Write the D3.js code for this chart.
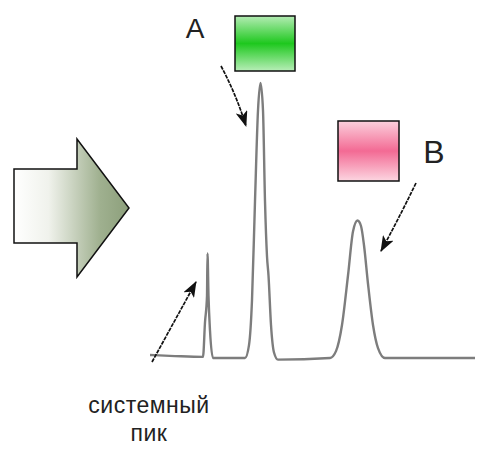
<!DOCTYPE html>
<html lang="ru">
<head>
<meta charset="UTF-8">
<title>Хроматограмма</title>
<script src="https://cdn.jsdelivr.net/npm/d3@7"></script>
<style>
    body { margin: 0; background: #fff; }
    svg { display: block; }
    .label { font-family: "Liberation Sans", Arial, sans-serif; fill: #222; }
</style>
</head>
<body>
<script>
    // retention time (arbitrary units) and detector signal
    var times = [0, 1, 2.12, 2.2, 2.28, 2.3, 2.34, 2.4, 2.52,
        3.8, 3.96, 4.08, 4.2, 4.32, 4.42, 4.52, 4.6, 4.68, 4.74, 4.84, 4.96, 5.12,
        7.2, 7.44, 7.68, 7.92, 8.12, 8.3, 8.44, 8.56, 8.72, 8.92, 9.12, 9.4, 13];
    var signal = [1.1, 0.7, 0.4, 13, 22.5, 38, 22.5, 10, 0,
        0, 4.7, 21, 57, 90, 100, 90, 57, 37, 30, 12, 2, -0.6,
        0, 2.5, 12, 30, 46, 50, 48, 41, 27, 12, 3.6, 0, 0];
    var peakNames = ["A", "B"];
    var systemPeakText = ["системный", "пик"];

    var width = 481, height = 450;
    var x = d3.scaleLinear().domain([0, 13]).range([150, 475]);
    var y = d3.scaleLinear().domain([0, 100]).range([358, 83]);

    var svg = d3.select("body").append("svg")
        .attr("width", width)
        .attr("height", height);

    var defs = svg.append("defs");

    // gradients
    var arrowGrad = defs.append("linearGradient").attr("id", "arrowGrad")
        .attr("x1", "0%").attr("x2", "100%").attr("y1", "0%").attr("y2", "0%");
    arrowGrad.append("stop").attr("offset", "0%").attr("stop-color", "#ffffff");
    arrowGrad.append("stop").attr("offset", "30%").attr("stop-color", "#f0f2ec");
    arrowGrad.append("stop").attr("offset", "75%").attr("stop-color", "#9fb08f");
    arrowGrad.append("stop").attr("offset", "100%").attr("stop-color", "#8c9f7b");

    var greenGrad = defs.append("linearGradient").attr("id", "greenGrad")
        .attr("x1", "0%").attr("x2", "0%").attr("y1", "0%").attr("y2", "100%");
    greenGrad.append("stop").attr("offset", "0%").attr("stop-color", "#b4ecb4");
    greenGrad.append("stop").attr("offset", "50%").attr("stop-color", "#1ec81e");
    greenGrad.append("stop").attr("offset", "100%").attr("stop-color", "#b8eeb8");

    var pinkGrad = defs.append("linearGradient").attr("id", "pinkGrad")
        .attr("x1", "0%").attr("x2", "0%").attr("y1", "0%").attr("y2", "100%");
    pinkGrad.append("stop").attr("offset", "0%").attr("stop-color", "#fbd0dc");
    pinkGrad.append("stop").attr("offset", "50%").attr("stop-color", "#f36a94");
    pinkGrad.append("stop").attr("offset", "100%").attr("stop-color", "#fcd6e1");

    defs.append("marker").attr("id", "head")
        .attr("viewBox", "0 0 16 12")
        .attr("refX", 15).attr("refY", 6)
        .attr("markerWidth", 16).attr("markerHeight", 12)
        .attr("markerUnits", "userSpaceOnUse")
        .attr("orient", "auto")
        .append("path").attr("d", "M0,0 L16,6 L0,12 L4,6 Z").attr("fill", "#111");

    // big block arrow on the left
    svg.append("path")
        .attr("d", "M14,169 L77,169 L77,139 L129,208 L77,277 L77,243 L14,243 Z")
        .attr("fill", "url(#arrowGrad)")
        .attr("stroke", "#111")
        .attr("stroke-width", 1.5);

    // chromatogram trace
    var pts = times.map(function (t, i) { return [t, signal[i]]; });
    var line = d3.line()
        .x(function (d) { return x(d[0]); })
        .y(function (d) { return y(d[1]); })
        .curve(d3.curveMonotoneX);

    svg.append("path")
        .datum(pts)
        .attr("d", line)
        .attr("fill", "none")
        .attr("stroke", "#7d7d7d")
        .attr("stroke-width", 2.4)
        .attr("stroke-linejoin", "round");

    // colour boxes
    svg.append("rect").attr("x", 235).attr("y", 16).attr("width", 60).attr("height", 55)
        .attr("fill", "url(#greenGrad)").attr("stroke", "#111").attr("stroke-width", 1.5);
    svg.append("rect").attr("x", 338).attr("y", 121).attr("width", 61).attr("height", 60)
        .attr("fill", "url(#pinkGrad)").attr("stroke", "#111").attr("stroke-width", 1.5);

    // pointer arrows
    var pointers = [
        "M221,66 Q236,94 246,126",
        "M416,183 Q397,222 381,251",
        "M152,362 L196,282"
    ];
    svg.selectAll(".pointer").data(pointers).enter().append("path")
        .attr("class", "pointer")
        .attr("d", function (d) { return d; })
        .attr("fill", "none")
        .attr("stroke", "#111")
        .attr("stroke-width", 1.7)
        .attr("stroke-dasharray", "4,1")
        .attr("marker-end", "url(#head)");

    // labels
    svg.append("text").attr("class", "label")
        .attr("x", 195).attr("y", 38).attr("text-anchor", "middle")
        .attr("font-size", 28).text(peakNames[0]);
    svg.append("text").attr("class", "label")
        .attr("x", 434).attr("y", 163).attr("text-anchor", "middle")
        .attr("font-size", 32).text(peakNames[1]);

    svg.selectAll(".sys").data(systemPeakText).enter().append("text")
        .attr("class", "label sys")
        .attr("x", 149)
        .attr("y", function (d, i) { return 413 + i * 28; })
        .attr("text-anchor", "middle")
        .attr("font-size", 23)
        .attr("letter-spacing", 0.5)
        .text(function (d) { return d; });
</script>
</body>
</html>
